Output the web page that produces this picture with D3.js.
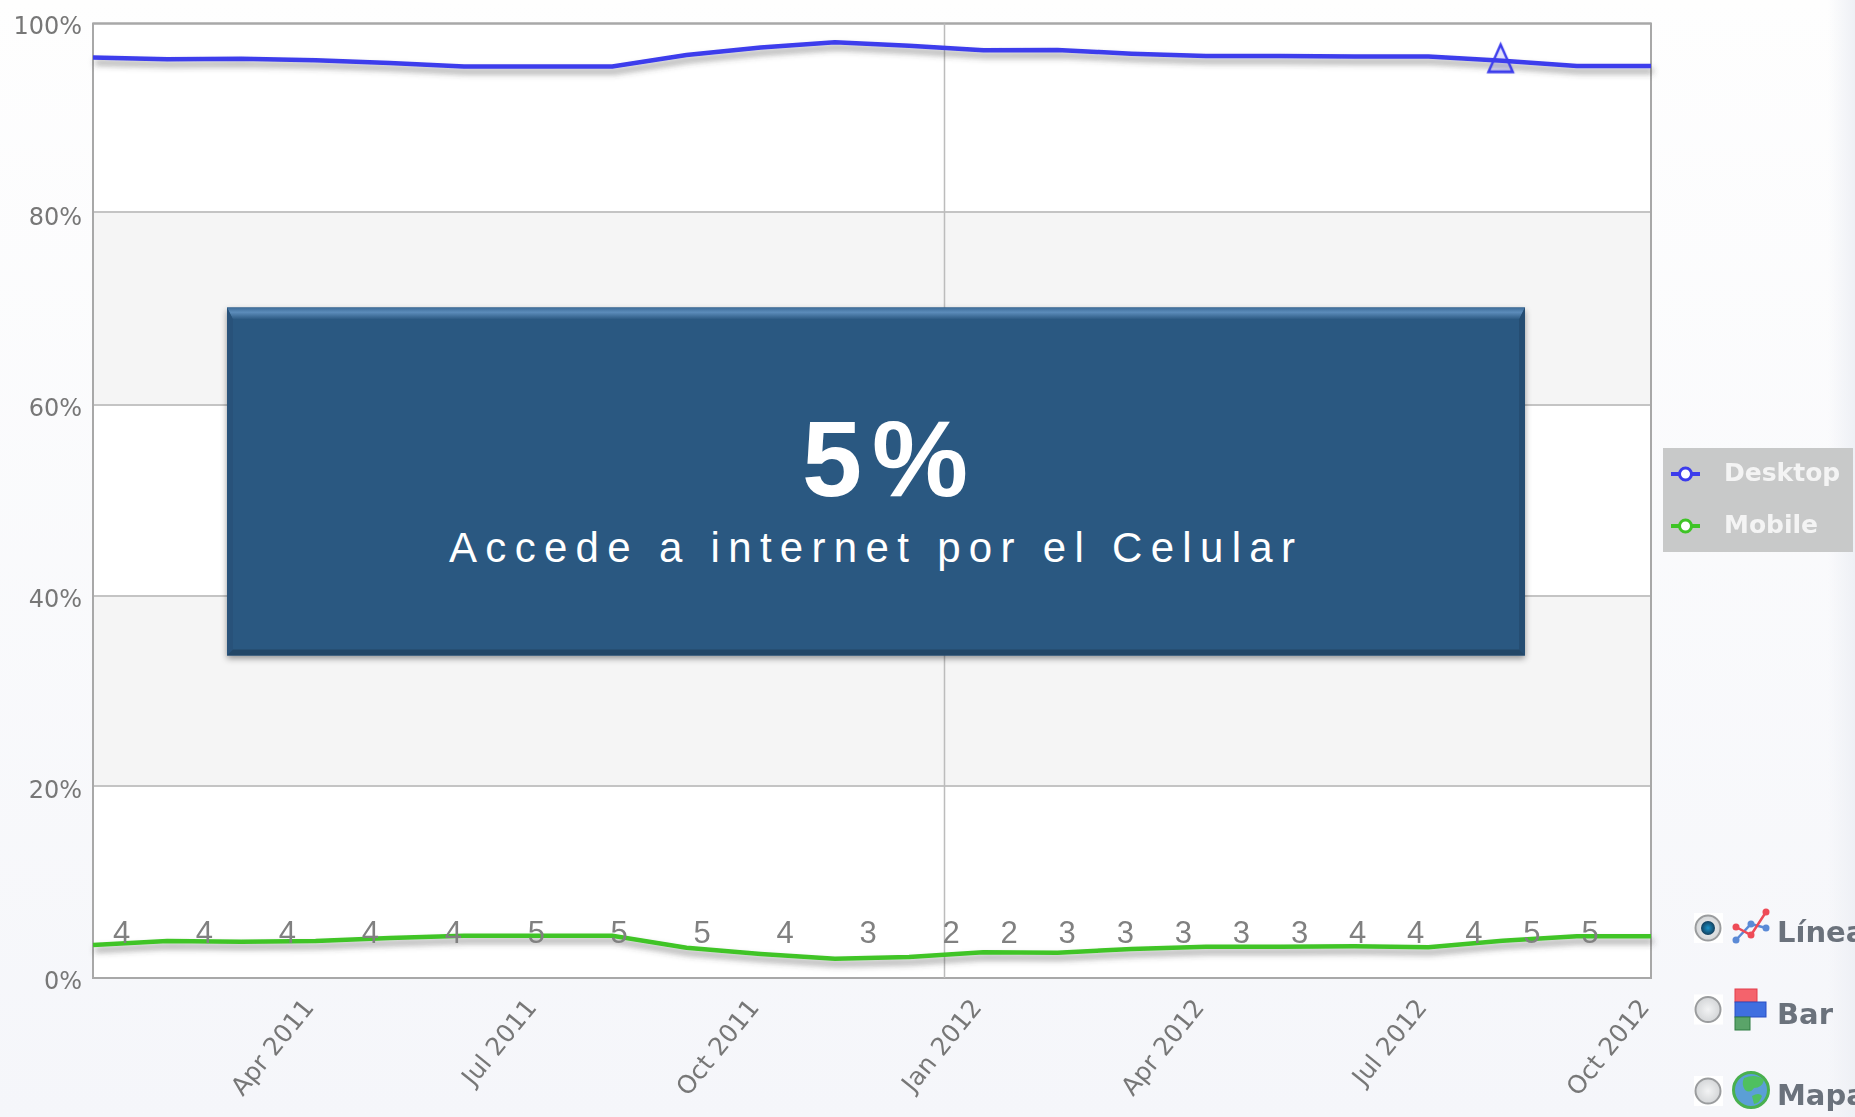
<!DOCTYPE html>
<html>
<head>
<meta charset="utf-8">
<script src="https://cdn.jsdelivr.net/npm/d3@7"></script>
<style>
    html, body { margin: 0; padding: 0; overflow: hidden; background: #fafafc; }
    svg { display: block; }
    .soft { filter: blur(0.6px); }
</style>
</head>
<body>
<div id="chart"></div>
<script>
// data
const months = ["Jan 2011", "Feb 2011", "Mar 2011", "Apr 2011", "May 2011", "Jun 2011", "Jul 2011", "Aug 2011",
    "Sep 2011", "Oct 2011", "Nov 2011", "Dec 2011", "Jan 2012", "Feb 2012", "Mar 2012", "Apr 2012",
    "May 2012", "Jun 2012", "Jul 2012", "Aug 2012", "Sep 2012", "Oct 2012"]
const desktop = [96.4, 96.2, 96.25, 96.1, 95.8, 95.45, 95.45, 95.45, 96.65, 97.45, 98.0, 97.65,
    97.15, 97.2, 96.8, 96.55, 96.55, 96.5, 96.5, 96.05, 95.5, 95.5]
const mobile = [3.44, 3.85, 3.78, 3.85, 4.17, 4.4, 4.4, 4.4, 3.16, 2.5, 2.0, 2.2,
    2.68, 2.63, 3.02, 3.26, 3.26, 3.3, 3.2, 3.89, 4.34, 4.34]
const mobileLabels = [4, 4, 4, 4, 4, 5, 5, 5, 4, 3, 2, 2, 3, 3, 3, 3, 3, 4, 4, 4, 5, 5]
const yTicks = [0, 20, 40, 60, 80, 100]
const xTicks = ["Apr 2011", "Jul 2011", "Oct 2011", "Jan 2012", "Apr 2012", "Jul 2012", "Oct 2012"]
const seriesNames = ["Desktop", "Mobile"]
const seriesColors = ["#3c3cec", "#3fc426"]
const chartTypes = ["Línea", "Bar", "Mapa"]
const calloutValue = "5%"
const calloutText = "Accede a internet por el Celular"
const markedMonth = "Aug 2012"

const width = 1855, height = 1117
const plot = { left: 93, right: 1651, top: 23.5, bottom: 978 }
const grey = "#777"

const svg = d3.select("#chart").append("svg")
    .attr("width", width)
    .attr("height", height)
    .attr("viewBox", [0, 0, width, height])

const defs = svg.append("defs")

const bg = defs.append("linearGradient").attr("id", "pageBg").attr("x2", 0).attr("y2", 1)
bg.append("stop").attr("offset", 0).attr("stop-color", "#fefefe")
bg.append("stop").attr("offset", 1).attr("stop-color", "#f5f6fa")

const edge = defs.append("linearGradient").attr("id", "edgeBg")
edge.append("stop").attr("offset", 0).attr("stop-color", "#eef0f5").attr("stop-opacity", 0)
edge.append("stop").attr("offset", 1).attr("stop-color", "#eef0f5")

const bevelTop = defs.append("linearGradient").attr("id", "bevelTop").attr("x2", 0).attr("y2", 1)
bevelTop.append("stop").attr("offset", 0).attr("stop-color", "#3d6c98")
bevelTop.append("stop").attr("offset", 0.4).attr("stop-color", "#5c8cba")
bevelTop.append("stop").attr("offset", 1).attr("stop-color", "#2b5881")

const lineShadow = defs.append("filter").attr("id", "lineShadow")
    .attr("x", "-5%").attr("y", "-100%").attr("width", "110%").attr("height", "400%")
lineShadow.append("feDropShadow").attr("dx", 2).attr("dy", 5).attr("stdDeviation", 3)
    .attr("flood-color", "#444").attr("flood-opacity", 0.55)

const boxShadow = defs.append("filter").attr("id", "boxShadow")
    .attr("x", "-3%").attr("y", "-3%").attr("width", "106%").attr("height", "108%")
boxShadow.append("feDropShadow").attr("dx", 0).attr("dy", 3).attr("stdDeviation", 3)
    .attr("flood-color", "#000").attr("flood-opacity", 0.4)

const radioOff = defs.append("radialGradient").attr("id", "radioOff")
radioOff.append("stop").attr("offset", 0).attr("stop-color", "#f2f3f4")
radioOff.append("stop").attr("offset", 1).attr("stop-color", "#d4d6d8")

const radioOn = defs.append("radialGradient").attr("id", "radioOn")
radioOn.append("stop").attr("offset", 0).attr("stop-color", "#1b93c9")
radioOn.append("stop").attr("offset", 1).attr("stop-color", "#123f5e")

svg.append("rect").attr("width", width).attr("height", height).attr("fill", "url(#pageBg)")
svg.append("rect").attr("x", 1828).attr("width", 27).attr("height", height).attr("fill", "url(#edgeBg)")

// scales (the grid rows of the source are not quite even)
const x = d3.scalePoint().domain(months).range([plot.left, plot.right])
const y = d3.scaleLinear().domain(yTicks).range([plot.bottom, 786, 596, 405, 212, plot.top])
// axis labels are spaced evenly, so they drift a little off the grid rows
const yLabel = d3.scaleLinear().domain([0, 100]).range([980, 24.5])
// the value labels sit on their own spacing, wider before Jan 2012
const labelX = d3.scaleLinear().domain([0, 10, 21]).range([121.5, 951, 1590])

// bands
const bands = d3.pairs(yTicks)
svg.append("g").selectAll("rect")
    .data(bands)
    .join("rect")
    .attr("x", plot.left)
    .attr("width", plot.right - plot.left)
    .attr("y", d => y(d[1]))
    .attr("height", d => y(d[0]) - y(d[1]))
    .attr("fill", (d, i) => i % 2 ? "#f5f5f5" : "#fff")

// grid
svg.append("g").attr("class", "soft").selectAll("line")
    .data(yTicks)
    .join("line")
    .attr("x1", plot.left)
    .attr("x2", plot.right)
    .attr("y1", d => y(d))
    .attr("y2", d => y(d))
    .attr("stroke", d => d == 0 || d == 100 ? "#a8a8a8" : "#c4c4c4")
    .attr("stroke-width", 2)

svg.append("rect")
    .attr("class", "soft")
    .attr("x", plot.left)
    .attr("y", plot.top)
    .attr("width", plot.right - plot.left)
    .attr("height", plot.bottom - plot.top)
    .attr("fill", "none")
    .attr("stroke", "#a8a8a8")
    .attr("stroke-width", 2)

svg.append("line")
    .attr("x1", 944.5).attr("x2", 944.5)
    .attr("y1", plot.top).attr("y2", plot.bottom)
    .attr("stroke", "#bcbcbc")
    .attr("stroke-width", 1.5)

// axes
const yAxis = svg.append("g")
    .attr("class", "soft")
    .attr("transform", `translate(${plot.left - 11},0)`)
    .call(d3.axisLeft(yLabel).tickValues(yTicks).tickSize(0).tickPadding(0).tickFormat(d => d + "%"))
yAxis.select(".domain").remove()
yAxis.selectAll("text")
    .attr("dy", "0.36em")
    .style("font-family", "DejaVu Sans")
    .style("font-size", "24px")
    .style("fill", grey)

const xAxis = svg.append("g")
    .attr("class", "soft")
    .attr("transform", `translate(0,${plot.bottom})`)
    .call(d3.axisBottom(x).tickValues(xTicks).tickSize(0).tickPadding(0))
xAxis.select(".domain").remove()
xAxis.selectAll("text")
    .attr("text-anchor", "end")
    .attr("dy", 0)
    .attr("transform", "translate(-1,30) rotate(-51)")
    .style("font-family", "DejaVu Sans")
    .style("font-size", "25px")
    .style("fill", grey)

// lines
const line = d3.line()
    .x((d, i) => x(months[i]))
    .y(d => y(d))

svg.append("g").attr("class", "series soft").selectAll("path")
    .data([desktop, mobile])
    .join("path")
    .attr("d", line)
    .attr("fill", "none")
    .attr("stroke", (d, i) => seriesColors[i])
    .attr("stroke-width", 4.5)
    .attr("filter", "url(#lineShadow)")

// triangle on the desktop line
const triangle = d3.symbol().type(d3.symbolTriangle).size(300)
svg.append("path")
    .attr("d", triangle)
    .attr("transform", `translate(${x(markedMonth) - 2},${y(desktop[months.indexOf(markedMonth)]) + 2}) scale(0.92,1.2)`)
    .attr("fill", "#3c3cec")
    .attr("fill-opacity", 0.15)
    .attr("stroke", "#3c3cec")
    .attr("stroke-width", 2.5)

// value labels above the mobile line
svg.append("g").selectAll("text")
    .data(mobileLabels)
    .join("text")
    .attr("x", (d, i) => labelX(i))
    .attr("y", 943)
    .attr("text-anchor", "middle")
    .style("font-family", "Liberation Sans")
    .style("font-size", "31px")
    .style("fill", "#808080")
    .text(d => d)

// callout box
const box = { x0: 227, x1: 1525, y0: 307.5, y1: 655.5, top: 12, side: 6, low: 6 }
svg.append("rect")
    .attr("x", box.x0).attr("y", box.y0)
    .attr("width", box.x1 - box.x0).attr("height", box.y1 - box.y0)
    .attr("fill", "#2b5881")
    .attr("filter", "url(#boxShadow)")
const poly = (pts) => "M" + pts.map(p => p.join(",")).join("L") + "Z"
const inner = { x0: box.x0 + box.side, x1: box.x1 - box.side, y0: box.y0 + box.top, y1: box.y1 - box.low }
const bevels = [
    { d: [[box.x0, box.y0], [box.x1, box.y0], [inner.x1, inner.y0], [inner.x0, inner.y0]], fill: "url(#bevelTop)" },
    { d: [[box.x0, box.y0], [inner.x0, inner.y0], [inner.x0, inner.y1], [box.x0, box.y1]], fill: "#28527a" },
    { d: [[box.x1, box.y0], [inner.x1, inner.y0], [inner.x1, inner.y1], [box.x1, box.y1]], fill: "#254d72" },
    { d: [[box.x0, box.y1], [inner.x0, inner.y1], [inner.x1, inner.y1], [box.x1, box.y1]], fill: "#234767" }
]
svg.append("g").selectAll("path")
    .data(bevels)
    .join("path")
    .attr("d", d => poly(d.d))
    .attr("fill", d => d.fill)

svg.append("text")
    .attr("x", 890)
    .attr("y", 496)
    .attr("text-anchor", "middle")
    .style("font-family", "Liberation Sans")
    .style("font-weight", "bold")
    .style("font-size", "108px")
    .style("letter-spacing", "10px")
    .style("fill", "#fff")
    .text(calloutValue)

svg.append("text")
    .attr("x", 449)
    .attr("y", 562)
    .attr("textLength", 846)
    .attr("lengthAdjust", "spacing")
    .style("font-family", "Liberation Sans")
    .style("font-size", "42px")
    .style("fill", "#fff")
    .text(calloutText)

// legend
svg.append("rect")
    .attr("x", 1663).attr("y", 448)
    .attr("width", 190).attr("height", 104)
    .attr("fill", "#c8c9c9")

const legendY = d3.scalePoint().domain(seriesNames).range([474, 526])
const legend = svg.append("g").attr("class", "soft").selectAll("g")
    .data(seriesNames)
    .join("g")
    .attr("transform", d => `translate(0,${legendY(d)})`)
legend.append("line")
    .attr("x1", 1671).attr("x2", 1700)
    .attr("stroke", (d, i) => seriesColors[i])
    .attr("stroke-width", 4)
legend.append("circle")
    .attr("cx", 1685.5)
    .attr("r", 6)
    .attr("fill", "#fff")
    .attr("stroke", (d, i) => seriesColors[i])
    .attr("stroke-width", 3)
legend.append("text")
    .attr("x", 1724)
    .attr("y", 7)
    .style("font-family", "DejaVu Sans")
    .style("font-weight", "bold")
    .style("font-size", "25px")
    .style("fill", "#f4f4f4")
    .text(d => d)

// chart type selector, cut off by the page edge like the source
const typeY = d3.scalePoint().domain(chartTypes).range([928, 1091])
const types = svg.append("g").attr("class", "soft").selectAll("g")
    .data(chartTypes)
    .join("g")
    .attr("transform", d => `translate(0,${typeY(d)})`)
types.append("rect")
    .attr("x", 1694).attr("y", -15)
    .attr("width", 29).attr("height", 30)
    .attr("fill", "#fff")
types.append("circle")
    .attr("cx", 1708)
    .attr("r", 12.5)
    .attr("fill", "url(#radioOff)")
    .attr("stroke", "#9a9c9e")
    .attr("stroke-width", 2)
types.filter((d, i) => i == 0).append("circle")
    .attr("cx", 1708)
    .attr("r", 7)
    .attr("fill", "url(#radioOn)")
types.append("text")
    .attr("x", 1777)
    .attr("y", 14)
    .style("font-family", "DejaVu Sans")
    .style("font-weight", "bold")
    .style("font-size", "29px")
    .style("fill", "#6b727c")
    .text(d => d)

// little icons
const iconLine = d3.line()
const lineIcon = svg.append("g").attr("class", "soft")
const redPts = [[1736, 927], [1751, 935], [1766, 912]]
const bluePts = [[1736, 940], [1751, 924], [1766, 928]]
lineIcon.append("path").attr("d", iconLine(bluePts)).attr("fill", "none").attr("stroke", "#5b8ad6").attr("stroke-width", 2.5)
lineIcon.append("path").attr("d", iconLine(redPts)).attr("fill", "none").attr("stroke", "#ee4b57").attr("stroke-width", 2.5)
lineIcon.selectAll("circle.b").data(bluePts).join("circle").attr("cx", d => d[0]).attr("cy", d => d[1]).attr("r", 3.5).attr("fill", "#5b8ad6")
lineIcon.selectAll("circle.r").data(redPts, d => d).enter().append("circle").attr("cx", d => d[0]).attr("cy", d => d[1]).attr("r", 3.5).attr("fill", "#ee4b57")

const barIcon = svg.append("g").attr("class", "soft")
barIcon.append("rect").attr("x", 1735).attr("y", 989).attr("width", 22).attr("height", 13).attr("fill", "#f4636c").attr("stroke", "#e23c4a")
barIcon.append("rect").attr("x", 1735).attr("y", 1002).attr("width", 31).attr("height", 15).attr("fill", "#3f6fe0").attr("stroke", "#2a4fc4")
barIcon.append("rect").attr("x", 1735).attr("y", 1017).attr("width", 15).attr("height", 13).attr("fill", "#5aa469").attr("stroke", "#2f7d43")

const globe = svg.append("g").attr("class", "soft")
globe.append("circle").attr("cx", 1751).attr("cy", 1090).attr("r", 17.5).attr("fill", "#5b9fd6").attr("stroke", "#49b04e").attr("stroke-width", 3)
globe.append("path").attr("d", "M1744 1078Q1756 1073 1764 1080Q1762 1088 1754 1088Q1750 1094 1745 1090Q1741 1084 1744 1078Z").attr("fill", "#4fc060")
globe.append("path").attr("d", "M1752 1096Q1759 1092 1762 1096Q1760 1103 1754 1104Z").attr("fill", "#4fc060")
</script>
</body>
</html>
